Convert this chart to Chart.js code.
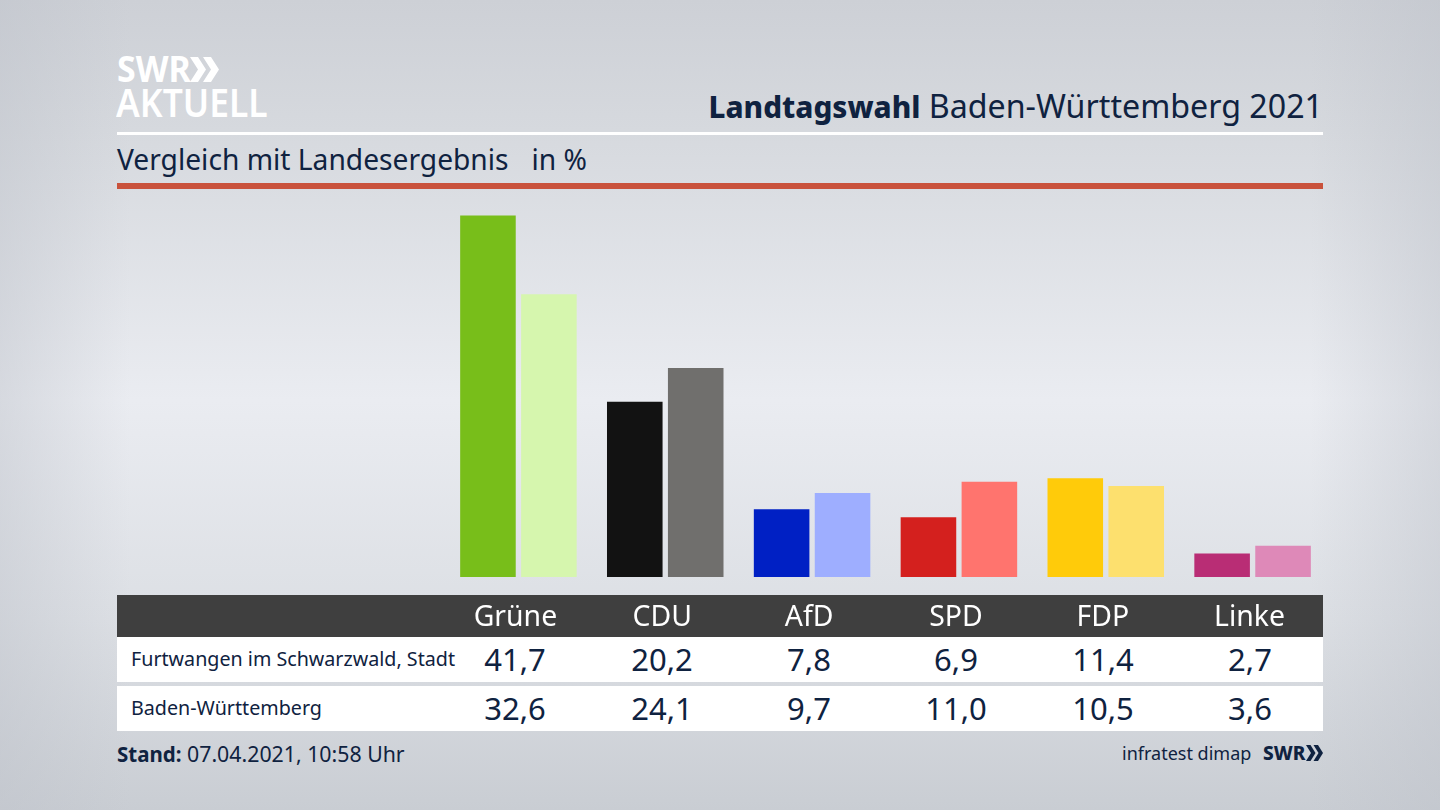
<!DOCTYPE html>
<html lang="de">
<head>
<meta charset="utf-8">
<title>Landtagswahl Baden-Württemberg 2021</title>
<script src="https://cdn.jsdelivr.net/npm/chart.js@4/dist/chart.umd.min.js"></script>
<style>
    html, body { margin: 0; padding: 0; }
    body {
        width: 1440px; height: 810px; overflow: hidden; position: relative;
        font-family: "Noto Sans", sans-serif; color: #0f2240;
        background:
            linear-gradient(90deg, rgba(190,194,202,.45) 0, rgba(190,194,202,0) 130px, rgba(190,194,202,0) 1310px, rgba(190,194,202,.45) 1440px),
            linear-gradient(180deg, #cdd0d6 0, #d6d9de 130px, #eaecf1 400px, #dcdfe4 620px, #c9cdd3 810px);
    }
    .abs { position: absolute; white-space: nowrap; }
    #chartBox { position: absolute; left: 444.5px; top: 200px; width: 881px; height: 440px; }
    .band { position: absolute; left: 117px; width: 1206px; }
    .val { position: absolute; width: 120px; margin-left: -60px; text-align: center; font-size: 31px; line-height: 44px; }
    .rowName { position: absolute; left: 131px; font-size: 19.7px; line-height: 44px; white-space: nowrap; }
</style>
</head>
<body>
<div class="abs" id="logo1" style="left:117px;top:46px;font-size:35px;line-height:46px;font-weight:700;color:#fff;transform:scaleX(.97);transform-origin:left;">SWR</div>
<svg class="abs" style="left:190px;top:57px" width="30" height="25" viewBox="0 0 30 25" fill="#fff">
    <polygon points="0,0 8,0 16,12.5 8,25 0,25 8,12.5"/>
    <polygon points="13,0 21,0 29,12.5 21,25 13,25 21,12.5"/>
</svg>
<div class="abs" id="logo2" style="left:116px;top:78px;font-size:40px;line-height:48px;font-weight:600;color:#fff;transform:scaleX(.885);transform-origin:left;">AKTUELL</div>

<div class="abs" style="right:117px;top:84px;font-size:32.2px;line-height:44px;"><b style="font-weight:800;font-size:29.7px">Landtagswahl</b> Baden-Württemberg 2021</div>
<div class="band" style="top:132px;height:3px;background:#fff"></div>
<div class="abs" style="left:117px;top:139px;font-size:28.2px;line-height:40px;">Vergleich mit Landesergebnis<span style="margin-left:23px">in %</span></div>
<div class="band" style="top:183px;height:6px;background:#c9523c"></div>

<div class="band" style="top:595px;height:42px;background:#3f3f3f"></div>
<div class="band" style="top:637px;height:45px;background:#fff"></div>
<div class="band" style="top:686px;height:45px;background:#fff"></div>
<div id="rows"></div>

<div id="chartBox"><canvas id="wahlChart"></canvas></div>

<div class="abs" style="left:117px;top:738px;font-size:21.3px;line-height:32px;"><b style="font-size:20.5px">Stand:</b> 07.04.2021, 10:58 Uhr</div>
<div class="abs" style="left:1122px;top:738px;font-size:18px;line-height:30px;">infratest dimap</div>
<div class="abs" style="left:1263px;top:738px;font-size:19px;line-height:30px;font-weight:800">SWR</div>
<svg class="abs" style="left:1306px;top:745px" width="17" height="16" viewBox="0 0 17 16" fill="#0f2240">
    <polygon points="0,0 4.5,0 9.5,8 4.5,16 0,16 5,8"/>
    <polygon points="7.5,0 12,0 17,8 12,16 7.5,16 12.5,8"/>
</svg>

<script>
const parties = ["Grüne", "CDU", "AfD", "SPD", "FDP", "Linke"];
const rowNames = ["Furtwangen im Schwarzwald, Stadt", "Baden-Württemberg"];
const furtwangen = [41.7, 20.2, 7.8, 6.9, 11.4, 2.7];
const landesergebnis = [32.6, 24.1, 9.7, 11.0, 10.5, 3.6];
const colorsDark = ["#78be1a", "#121212", "#0020c4", "#d4201e", "#ffcb0a", "#b92d75"];
const colorsLight = ["#d6f6ae", "#706f6d", "#9eaeff", "#ff746e", "#fde06e", "#de89b8"];

// height of the plot in pixels (200 to 577) divided by 8.67 px per percent
const yMax = 377 / 8.67;

new Chart(document.getElementById("wahlChart"), {
    type: "bar",
    data: {
        labels: parties,
        datasets: [
            { label: rowNames[0], data: furtwangen, backgroundColor: colorsDark },
            { label: rowNames[1], data: landesergebnis, backgroundColor: colorsLight }
        ]
    },
    options: {
        responsive: true,
        maintainAspectRatio: false,
        animation: false,
        datasets: { bar: { categoryPercentage: 0.83, barPercentage: 0.912 } },
        plugins: { legend: { display: false }, tooltip: { enabled: false } },
        layout: { padding: 0 },
        scales: {
            x: {
                grid: { display: false },
                border: { display: false },
                afterFit: (scale) => { scale.height = 63; },
                ticks: {
                    color: "#ffffff",
                    font: { family: "Noto Sans", size: 28.4 },
                    padding: 16,
                    labelOffset: -3,
                    maxRotation: 0,
                    autoSkip: false
                }
            },
            y: { display: false, min: 0, max: yMax }
        }
    }
});

// value rows below the axis labels, one column per party
const rows = document.getElementById("rows");
[furtwangen, landesergebnis].forEach((values, r) => {
    const top = r === 0 ? 637 : 686;
    const name = document.createElement("div");
    name.className = "rowName";
    name.style.top = top + "px";
    name.textContent = rowNames[r];
    rows.appendChild(name);
    values.forEach((v, i) => {
        const cell = document.createElement("div");
        cell.className = "val";
        cell.style.top = top + "px";
        cell.style.left = (515 + 147 * i) + "px";
        cell.textContent = v.toFixed(1).replace(".", ",");
        rows.appendChild(cell);
    });
});
</script>
</body>
</html>
